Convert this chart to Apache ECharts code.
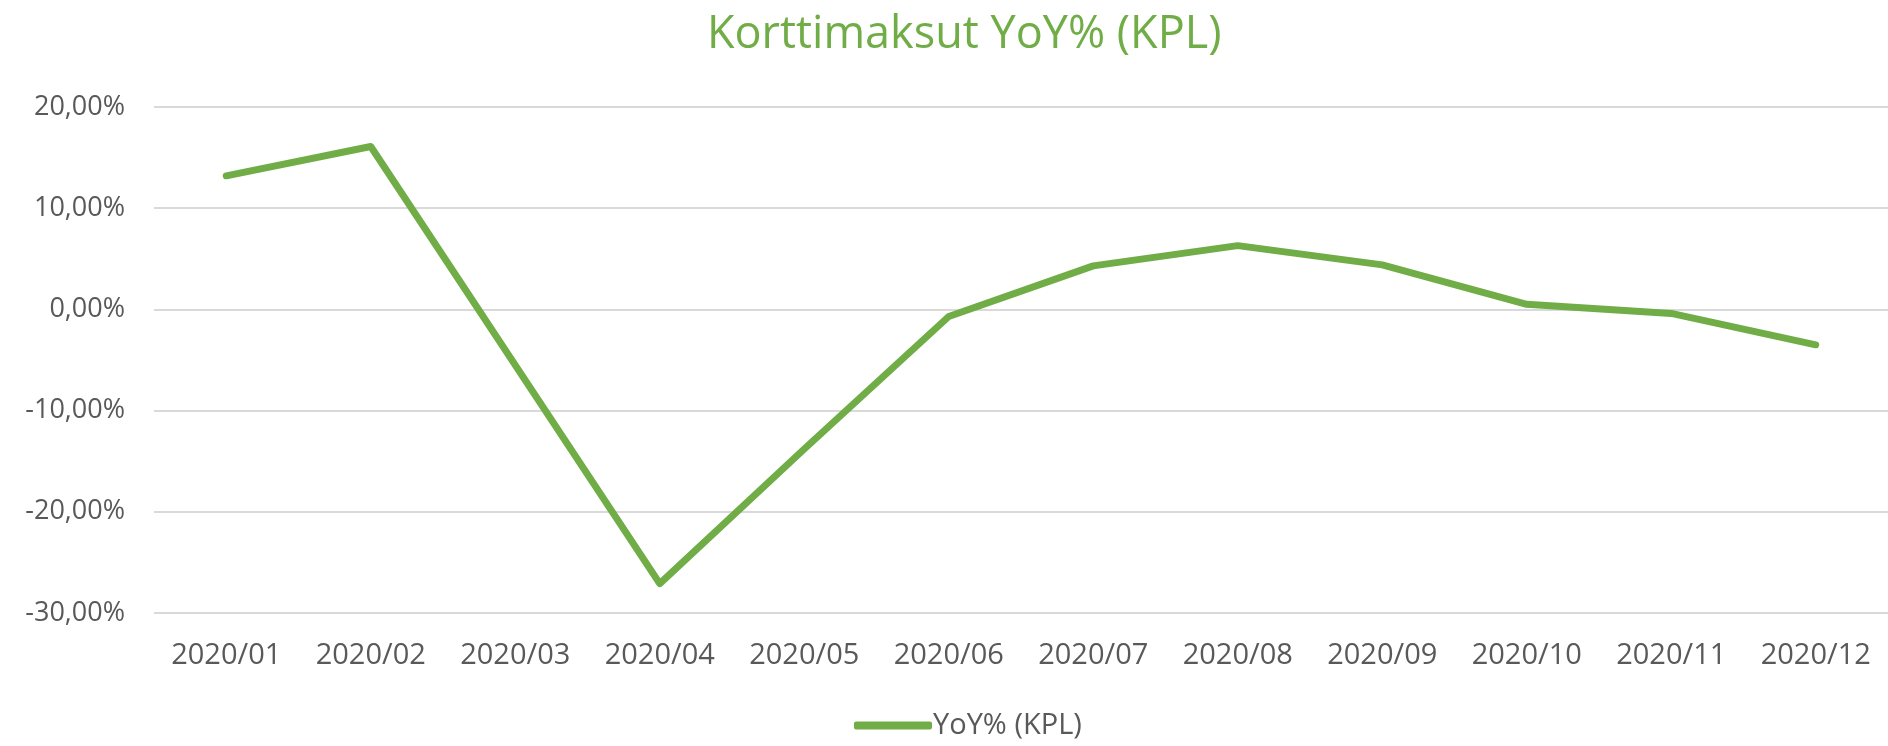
<!DOCTYPE html>
<html>
<head>
<meta charset="utf-8">
<script src="https://cdn.jsdelivr.net/npm/echarts@6/dist/echarts.min.js"></script>
<style>
    html, body {
        margin: 0;
        padding: 0;
        background: #fff;
    }

    #picture {
        width: 1888px;
        height: 746px;
    }
</style>
</head>
<body>
<div id="picture"></div>
<script>
    // data
    var months = ['2020/01', '2020/02', '2020/03', '2020/04', '2020/05', '2020/06',
        '2020/07', '2020/08', '2020/09', '2020/10', '2020/11', '2020/12'];
    var yoyKpl = [13.2, 16.1, -5.5, -27.1, -13.8, -0.7, 4.3, 6.3, 4.4, 0.5, -0.4, -3.5];
    var yTicks = [-30, -20, -10, 0, 10, 20];

    var green = '#70AD47';
    var labelColor = '#595959';
    var font = '"Open Sans", "Noto Sans", sans-serif';

    var myChart = echarts.init(document.getElementById('picture'));
    var option = {
        animation: false,
        title: {
            text: 'Korttimaksut YoY% (KPL)',
            left: 702,
            top: 8,
            textStyle: {
                color: green,
                fontFamily: font,
                fontWeight: 'normal',
                fontSize: 45
            }
        },
        grid: {
            left: 154,
            right: 0,
            top: 107,
            bottom: 133
        },
        legend: {
            data: [{
                name: 'YoY% (KPL)',
                icon: 'roundRect'
            }],
            left: 849,
            top: 706,
            itemWidth: 78,
            itemHeight: 8,
            itemGap: 4,
            textStyle: {
                color: labelColor,
                fontFamily: font,
                fontSize: 29,
                padding: [0, 0, 0, -4]
            }
        },
        xAxis: {
            type: 'category',
            data: months,
            boundaryGap: true,
            axisLine: { show: false },
            axisTick: { show: false },
            axisLabel: {
                color: labelColor,
                fontFamily: font,
                fontSize: 29,
                margin: 28
            }
        },
        yAxis: {
            type: 'value',
            min: yTicks[0],
            max: yTicks[yTicks.length - 1],
            interval: 10,
            axisLine: { show: false },
            axisTick: { show: false },
            axisLabel: {
                color: labelColor,
                fontFamily: font,
                fontSize: 27,
                margin: 29,
                formatter: function(v) {
                    return v.toFixed(2).replace('.', ',') + '%';
                }
            },
            splitLine: {
                show: true,
                lineStyle: {
                    color: '#D9D9D9',
                    width: 2
                }
            }
        },
        series: [{
            name: 'YoY% (KPL)',
            type: 'line',
            data: yoyKpl,
            symbol: 'none',
            color: green,
            lineStyle: {
                width: 7,
                color: green,
                cap: 'round',
                join: 'round'
            }
        }]
    };
    myChart.setOption(option);

    window.onresize = function() {
        myChart.resize();
    };
</script>
</body>
</html>
